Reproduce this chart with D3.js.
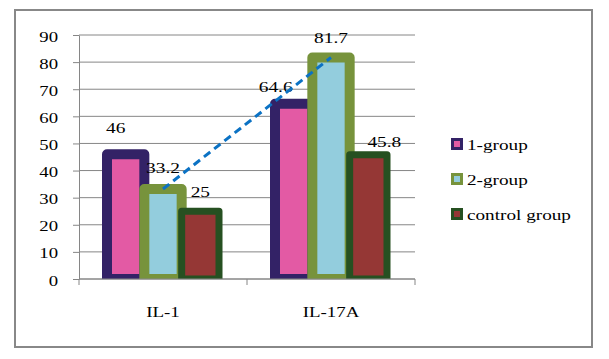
<!DOCTYPE html>
<html>
<head>
<meta charset="utf-8">
<script src="https://cdn.jsdelivr.net/npm/d3@7"></script>
<style>
  body { margin: 0; background: #fff; }
  text { font-family: "Liberation Serif", "Times New Roman", serif; fill: #000; }
</style>
</head>
<body>
<div id="chart"></div>
<script>
// data
const categories = ['IL-1', 'IL-17A'];
const seriesNames = ['1-group', '2-group', 'control group'];
const group1 = [46, 64.6];
const group2 = [33.2, 81.7];
const control = [25, 45.8];
const yTicks = [0, 10, 20, 30, 40, 50, 60, 70, 80, 90];

// label nudges (dx, dy from bar top) as placed in the original
const labelNudge = [
  [[-10, -21], [-18, -12]],
  [[0, -16], [0, -14.5]],
  [[0, -14], [16, -8]]
];

const width = 609;
const height = 359;
const plot = { left: 79, right: 415, top: 35, bottom: 279 };
const sx = 1.25; // the original text is rendered a bit wide

const fills = ['#E35AA4', '#93CDDD', '#953735'];
const strokes = ['#332266', '#77933C', '#265021'];
const strokeW = [10, 10, 7];

const series = [group1, group2, control];

const svg = d3.select('#chart')
  .append('svg')
  .attr('width', width)
  .attr('height', height);

// outer frame
svg.append('rect')
  .attr('x', 15).attr('y', 10)
  .attr('width', 577).attr('height', 337)
  .attr('fill', 'none')
  .attr('stroke', '#888')
  .attr('stroke-width', 2);

const x0 = d3.scaleBand()
  .domain(categories)
  .range([plot.left, plot.right])
  .paddingInner(0)
  .paddingOuter(0);

const x1 = d3.scaleBand()
  .domain(seriesNames)
  .range([0, x0.bandwidth()])
  .paddingInner(0)
  .paddingOuter(0.75);

const yScale = d3.scaleLinear()
  .domain([0, 90])
  .range([plot.bottom, plot.top]);

// gridlines
svg.append('g')
  .selectAll('line')
  .data(yTicks)
  .enter()
  .append('line')
  .attr('x1', plot.left)
  .attr('x2', plot.right)
  .attr('y1', d => yScale(d))
  .attr('y2', d => yScale(d))
  .attr('stroke', '#868686')
  .attr('stroke-width', 1);

// y axis
const yAxis = svg.append('g')
  .attr('transform', `translate(${plot.left}, 0)`)
  .call(d3.axisLeft(yScale).tickValues(yTicks).tickSize(6).tickSizeOuter(0));
yAxis.select('.domain').attr('stroke', '#868686');
yAxis.selectAll('line').attr('stroke', '#868686');
yAxis.selectAll('text')
  .attr('x', -21 / sx)
  .attr('dy', '0.4em')
  .attr('transform', `scale(${sx},1)`)
  .style('font-size', '15px')
  .style('font-family', '"Liberation Serif", serif')
  .attr('fill', '#000');

// bars, clipped at the axis
svg.append('clipPath').attr('id', 'plotClip')
  .append('rect')
  .attr('x', 0).attr('y', 0)
  .attr('width', width).attr('height', plot.bottom);

const barG = svg.append('g').attr('clip-path', 'url(#plotClip)');

categories.forEach((cat, ci) => {
  seriesNames.forEach((s, si) => {
    const v = series[si][ci];
    barG.append('rect')
      .attr('x', x0(cat) + x1(s))
      .attr('y', yScale(v))
      .attr('width', x1.bandwidth())
      .attr('height', yScale(0) - yScale(v))
      .attr('fill', fills[si])
      .attr('stroke', strokes[si])
      .attr('stroke-width', strokeW[si])
      .attr('stroke-linejoin', 'round');
  });
});

// x axis line and ticks
svg.append('line')
  .attr('x1', plot.left).attr('x2', plot.right)
  .attr('y1', plot.bottom).attr('y2', plot.bottom)
  .attr('stroke', '#868686');

const bounds = categories.map(c => x0(c)).concat([x0.range()[1]]);
svg.append('g')
  .selectAll('line')
  .data(bounds)
  .enter()
  .append('line')
  .attr('x1', d => d).attr('x2', d => d)
  .attr('y1', plot.bottom).attr('y2', plot.bottom + 6)
  .attr('stroke', '#868686');

function addText(parent, x, y, str, anchor, size, scale) {
  parent.append('g')
    .attr('transform', `translate(${x},${y}) scale(${scale},1)`)
    .append('text')
    .attr('text-anchor', anchor)
    .style('font-size', size + 'px')
    .text(str);
}

// category labels
categories.forEach(cat => {
  addText(svg, x0(cat) + x0.bandwidth() / 2, 317, cat, 'middle', 15.5, 1.22);
});

// value labels
const labelG = svg.append('g');
categories.forEach((cat, ci) => {
  seriesNames.forEach((s, si) => {
    const v = series[si][ci];
    const n = labelNudge[si][ci];
    addText(labelG, x0(cat) + x1(s) + x1.bandwidth() / 2 + n[0], yScale(v) + n[1],
      String(v), 'middle', 15.5, sx);
  });
});

// dashed trend line between the 2-group bar tops
const trend = d3.line()
  .x((d, i) => x0(categories[i]) + x1(seriesNames[1]) + x1.bandwidth() / 2)
  .y(d => yScale(d));

svg.append('path')
  .datum(group2)
  .attr('d', trend)
  .attr('fill', 'none')
  .attr('stroke', '#0B72C4')
  .attr('stroke-width', 3)
  .attr('stroke-dasharray', '8,5');

// legend
const legend = svg.append('g');
seriesNames.forEach((s, i) => {
  const ly = 144 + i * 35;
  legend.append('rect')
    .attr('x', 452.5).attr('y', ly - 4.5)
    .attr('width', 9).attr('height', 9)
    .attr('fill', fills[i])
    .attr('stroke', strokes[i])
    .attr('stroke-width', 3);
  addText(legend, 467, ly + 6, s, 'start', 15, 1.28);
});
</script>
</body>
</html>
